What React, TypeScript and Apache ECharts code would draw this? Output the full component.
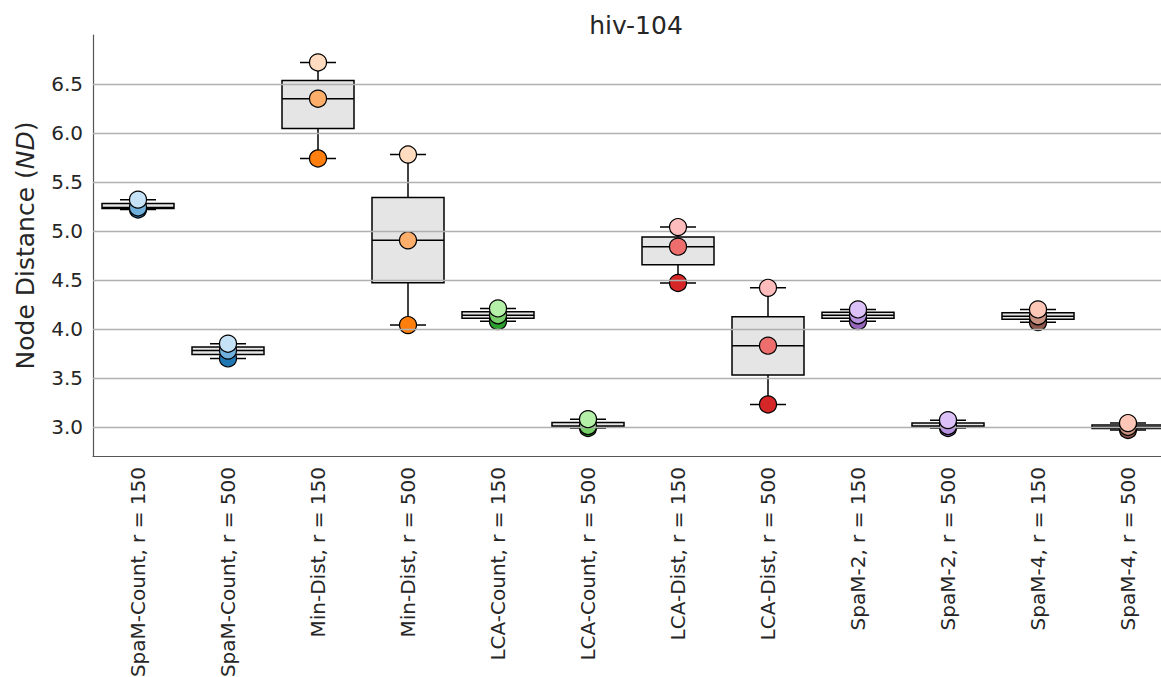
import React, { useEffect, useRef } from "react";
import * as echarts from "echarts";

// Methods compared on hiv-104
const categories = [
  "SpaM-Count, r = 150",
  "SpaM-Count, r = 500",
  "Min-Dist, r = 150",
  "Min-Dist, r = 500",
  "LCA-Count, r = 150",
  "LCA-Count, r = 500",
  "LCA-Dist, r = 150",
  "LCA-Dist, r = 500",
  "SpaM-2, r = 150",
  "SpaM-2, r = 500",
  "SpaM-4, r = 150",
  "SpaM-4, r = 500",
];

// Three runs per method: low, middle and high node distance
const lowValues = [5.22, 3.7, 5.74, 4.04, 4.08, 2.99, 4.47, 3.23, 4.08, 2.99, 4.07, 2.97];
const midValues = [5.24, 3.78, 6.35, 4.905, 4.14, 3.01, 4.84, 3.83, 4.14, 3.01, 4.13, 3.0];
const highValues = [5.32, 3.85, 6.72, 5.78, 4.21, 3.08, 5.04, 4.42, 4.2, 3.07, 4.2, 3.04];

// Marker colours per method pair (dark, mid, light)
const darkColors = ["#1f77b4", "#ff7f0e", "#2ca02c", "#d62728", "#9467bd", "#8c564b"];
const midColors = ["#6fb0dd", "#fdae6b", "#78d06a", "#ee6e6e", "#b894e0", "#c8907f"];
const lightColors = ["#c6e2f7", "#ffdcbf", "#b5f0a8", "#ffbcbc", "#dcc0f8", "#fdc7b8"];

const yTicks = [3.0, 3.5, 4.0, 4.5, 5.0, 5.5, 6.0, 6.5];

const FONT = "'DejaVu Sans', sans-serif";
const TEXT = "#262626";

// Box statistics for three values (seaborn-style linear quartiles)
function boxStats(i: number) {
  const v = [lowValues[i], midValues[i], highValues[i]].sort((a, b) => a - b);
  const q1 = (v[0] + v[1]) / 2;
  const q3 = (v[1] + v[2]) / 2;
  return [i, v[0], q1, v[1], q3, v[2]];
}

export default function App() {
  const ref = useRef<HTMLDivElement>(null);

  useEffect(() => {
    if (!ref.current) return;
    const chart = echarts.init(ref.current, null, { renderer: "svg" });

    const boxData = categories.map((_, i) => boxStats(i));

    const scatterSeries = (vals: number[], colors: string[], z: number) => ({
      type: "scatter",
      z,
      symbol: "circle",
      symbolSize: 17,
      data: vals.map((v, i) => ({
        value: [i, v],
        itemStyle: { color: colors[Math.floor(i / 2)] },
      })),
      itemStyle: { borderColor: "#000", borderWidth: 1.2, opacity: 1 },
      emphasis: { disabled: true },
    });

    chart.setOption({
      animation: false,
      backgroundColor: "#fff",
      title: {
        text: "hiv-104",
        left: 631,
        top: 8,
        textAlign: "center",
        textStyle: { fontFamily: FONT, fontSize: 25, fontWeight: "normal", color: TEXT },
      },
      grid: {
        left: 93,
        top: 35,
        right: -12,
        bottom: 221,
        containLabel: false,
        outerBoundsMode: "none",
      },
      xAxis: {
        type: "category",
        data: categories,
        boundaryGap: true,
        axisLine: { show: true, lineStyle: { color: "#555", width: 1.2 } },
        axisTick: { show: false },
        splitLine: { show: false },
        axisLabel: {
          rotate: 90,
          interval: 0,
          margin: 11,
          fontFamily: FONT,
          fontSize: 20,
          color: TEXT,
        },
      },
      yAxis: {
        type: "value",
        min: 2.704,
        max: 7.0,
        name: "{n|Node Distance (}{i|ND}{n|)}",
        nameLocation: "middle",
        nameGap: 55,
        nameRotate: 90,
        nameTextStyle: {
          rich: {
            n: { fontFamily: FONT, fontSize: 25, color: TEXT },
            i: { fontFamily: FONT, fontSize: 25, color: TEXT, fontStyle: "italic" },
          },
        },
        axisLine: { show: true, lineStyle: { color: "#555", width: 1.2 } },
        axisTick: { show: false },
        splitLine: { show: false },
        axisLabel: {
          customValues: yTicks,
          formatter: (v: number) => v.toFixed(1),
          margin: 10,
          fontFamily: FONT,
          fontSize: 20,
          color: TEXT,
        },
      },
      series: [
        {
          type: "line",
          z: 1,
          data: [],
          silent: true,
          markLine: {
            silent: true,
            symbol: "none",
            label: { show: false },
            lineStyle: { color: "#b0b0b0", width: 1.3, type: "solid" },
            data: yTicks.map((t) => ({ yAxis: t })),
          },
        },
        {
          type: "custom",
          z: 2,
          silent: true,
          data: boxData,
          encode: { x: 0, y: [1, 2, 3, 4, 5] },
          renderItem: (params: any, api: any) => {
            const x = api.value(0);
            const lo = api.coord([x, api.value(1)]);
            const q1 = api.coord([x, api.value(2)]);
            const med = api.coord([x, api.value(3)]);
            const q3 = api.coord([x, api.value(4)]);
            const hi = api.coord([x, api.value(5)]);
            const band = api.size([1, 0])[0];
            const half = band * 0.4;
            const cap = band * 0.2;
            const cx = lo[0];
            const stroke = { stroke: "#000", lineWidth: 1.5 };
            return {
              type: "group",
              children: [
                { type: "line", shape: { x1: cx, y1: q3[1], x2: cx, y2: hi[1] }, style: stroke },
                { type: "line", shape: { x1: cx, y1: q1[1], x2: cx, y2: lo[1] }, style: stroke },
                { type: "line", shape: { x1: cx - cap, y1: hi[1], x2: cx + cap, y2: hi[1] }, style: stroke },
                { type: "line", shape: { x1: cx - cap, y1: lo[1], x2: cx + cap, y2: lo[1] }, style: stroke },
                {
                  type: "rect",
                  shape: { x: cx - half, y: q3[1], width: half * 2, height: q1[1] - q3[1] },
                  style: { fill: "#e5e5e5", stroke: "#000", lineWidth: 1.5 },
                },
                { type: "line", shape: { x1: cx - half, y1: med[1], x2: cx + half, y2: med[1] }, style: stroke },
              ],
            };
          },
        },
        scatterSeries(lowValues, darkColors, 3),
        scatterSeries(midValues, midColors, 4),
        scatterSeries(highValues, lightColors, 5),
      ],
    });

    return () => chart.dispose();
  }, []);

  return (
    <div
      ref={ref}
      style={{ position: "fixed", left: 0, top: 0, width: 1161, height: 677, background: "#fff" }}
    />
  );
}
